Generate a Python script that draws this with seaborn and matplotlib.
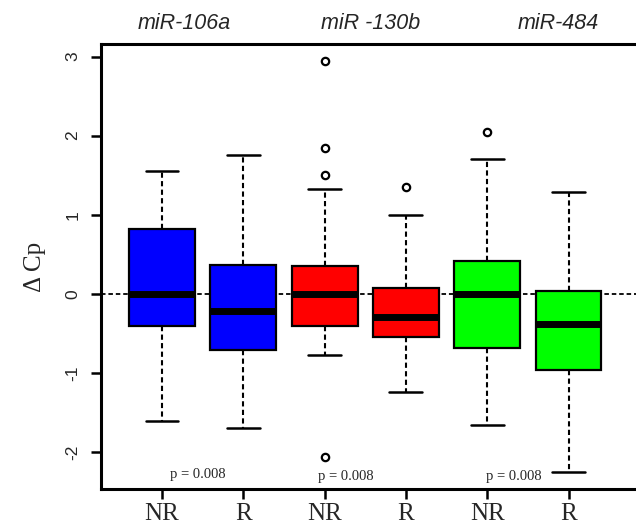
import numpy as np
import pandas as pd
import matplotlib
matplotlib.use("Agg")
import matplotlib.pyplot as plt
import matplotlib.transforms as mtransforms
import seaborn as sns

# ---- data ----
groups = ["NR", "R", "NR", "R", "NR", "R"]
box_ids = ["b1", "b2", "b3", "b4", "b5", "b6"]
colors = ["#0000FF", "#0000FF", "#FF0000", "#FF0000", "#00FF00", "#00FF00"]
whisk_lo = [-1.61, -1.70, -0.78, -1.24, -1.66, -2.25]
q1 = [-0.41, -0.71, -0.41, -0.55, -0.68, -0.96]
median = [0.00, -0.22, 0.00, -0.29, 0.00, -0.38]
q3 = [0.82, 0.37, 0.35, 0.07, 0.41, 0.04]
whisk_hi = [1.55, 1.75, 1.32, 1.00, 1.70, 1.29]
outliers = [[], [], [2.95, 1.84, 1.50, -2.06], [1.35], [2.05], []]
mirnas = ["miR-106a", "miR -130b", "miR-484"]
mirna_x = [0.28, 2.56, 4.87]
p_labels = ["p = 0.008", "p = 0.008", "p = 0.008"]
p_x = [0.44, 2.26, 4.33]
p_y = [-2.29, -2.31, -2.31]
yticks = [-2, -1, 0, 1, 2, 3]

# table for seaborn: five-number values per box (whiskers = min/max)
rows = []
for bid, a, b, c, d, e in zip(box_ids, whisk_lo, q1, median, q3, whisk_hi):
    for v in (a, b, c, d, e):
        rows.append({"box": bid, "value": v})
df = pd.DataFrame(rows)
out_rows = [{"box": bid, "value": v} for bid, vals in zip(box_ids, outliers) for v in vals]
df_out = pd.DataFrame(out_rows)

sns.set_style("white")
plt.rcParams["font.family"] = ["Liberation Sans", "DejaVu Sans"]
serif = ["Liberation Serif", "DejaVu Serif"]

fig = plt.figure(figsize=(6.36, 5.24), dpi=100)
ax = fig.add_axes([101 / 636, 35 / 524, 1 - 101 / 636, 445 / 524])

dash = (0, (2.5, 1.6))
ax.axhline(0, color="black", lw=1.3, linestyle=dash, zorder=0.5)

sns.boxplot(
    data=df, x="box", y="value", hue="box", order=box_ids, hue_order=box_ids,
    palette=colors, saturation=1, whis=(0, 100), width=0.81, dodge=False,
    legend=False, linecolor="black", linewidth=1.5, ax=ax,
    boxprops=dict(edgecolor="black", linewidth=1.6, zorder=2),
    medianprops=dict(color="black", linewidth=5.0, solid_capstyle="butt"),
    whiskerprops=dict(color="black", linewidth=1.5, linestyle=dash),
    capprops=dict(color="black", linewidth=1.8),
    showfliers=False,
)

sns.scatterplot(
    data=df_out, x="box", y="value", ax=ax, marker="o", s=28,
    facecolor="white", edgecolor="black", linewidth=1.6, zorder=3, legend=False,
)

ax.set_xlim(-0.75, 5.83)
ax.set_ylim(-2.47, 3.16)
ax.set_xticks(range(len(groups)))
ax.set_xticklabels(groups, family=serif, fontsize=18)
ax.set_yticks(yticks)
ax.set_yticklabels([str(t) for t in yticks], rotation=90, va="center", fontsize=12.5)
ax.tick_params(axis="both", direction="out", length=7, width=1.8, color="black",
               bottom=True, left=True)
ax.tick_params(axis="x", pad=3)
ax.tick_params(axis="y", pad=8)
for s in ["left", "bottom", "top"]:
    ax.spines[s].set_visible(True)
    ax.spines[s].set_linewidth(2.2)
    ax.spines[s].set_color("black")
ax.spines["right"].set_visible(False)
ax.set_xlabel("")
ax.set_ylabel("Δ Cp", family=serif, fontsize=18, labelpad=14)

trans = mtransforms.blended_transform_factory(ax.transData, ax.transAxes)
for name, xx in zip(mirnas, mirna_x):
    ax.text(xx, 1.047, name, transform=trans, ha="center", va="center",
            fontsize=15.5, style="italic", clip_on=False)
for lab, xx, yy in zip(p_labels, p_x, p_y):
    ax.text(xx, yy, lab, ha="center", va="center", fontsize=10.5, family=serif)

fig.savefig("out.png", dpi=100)
